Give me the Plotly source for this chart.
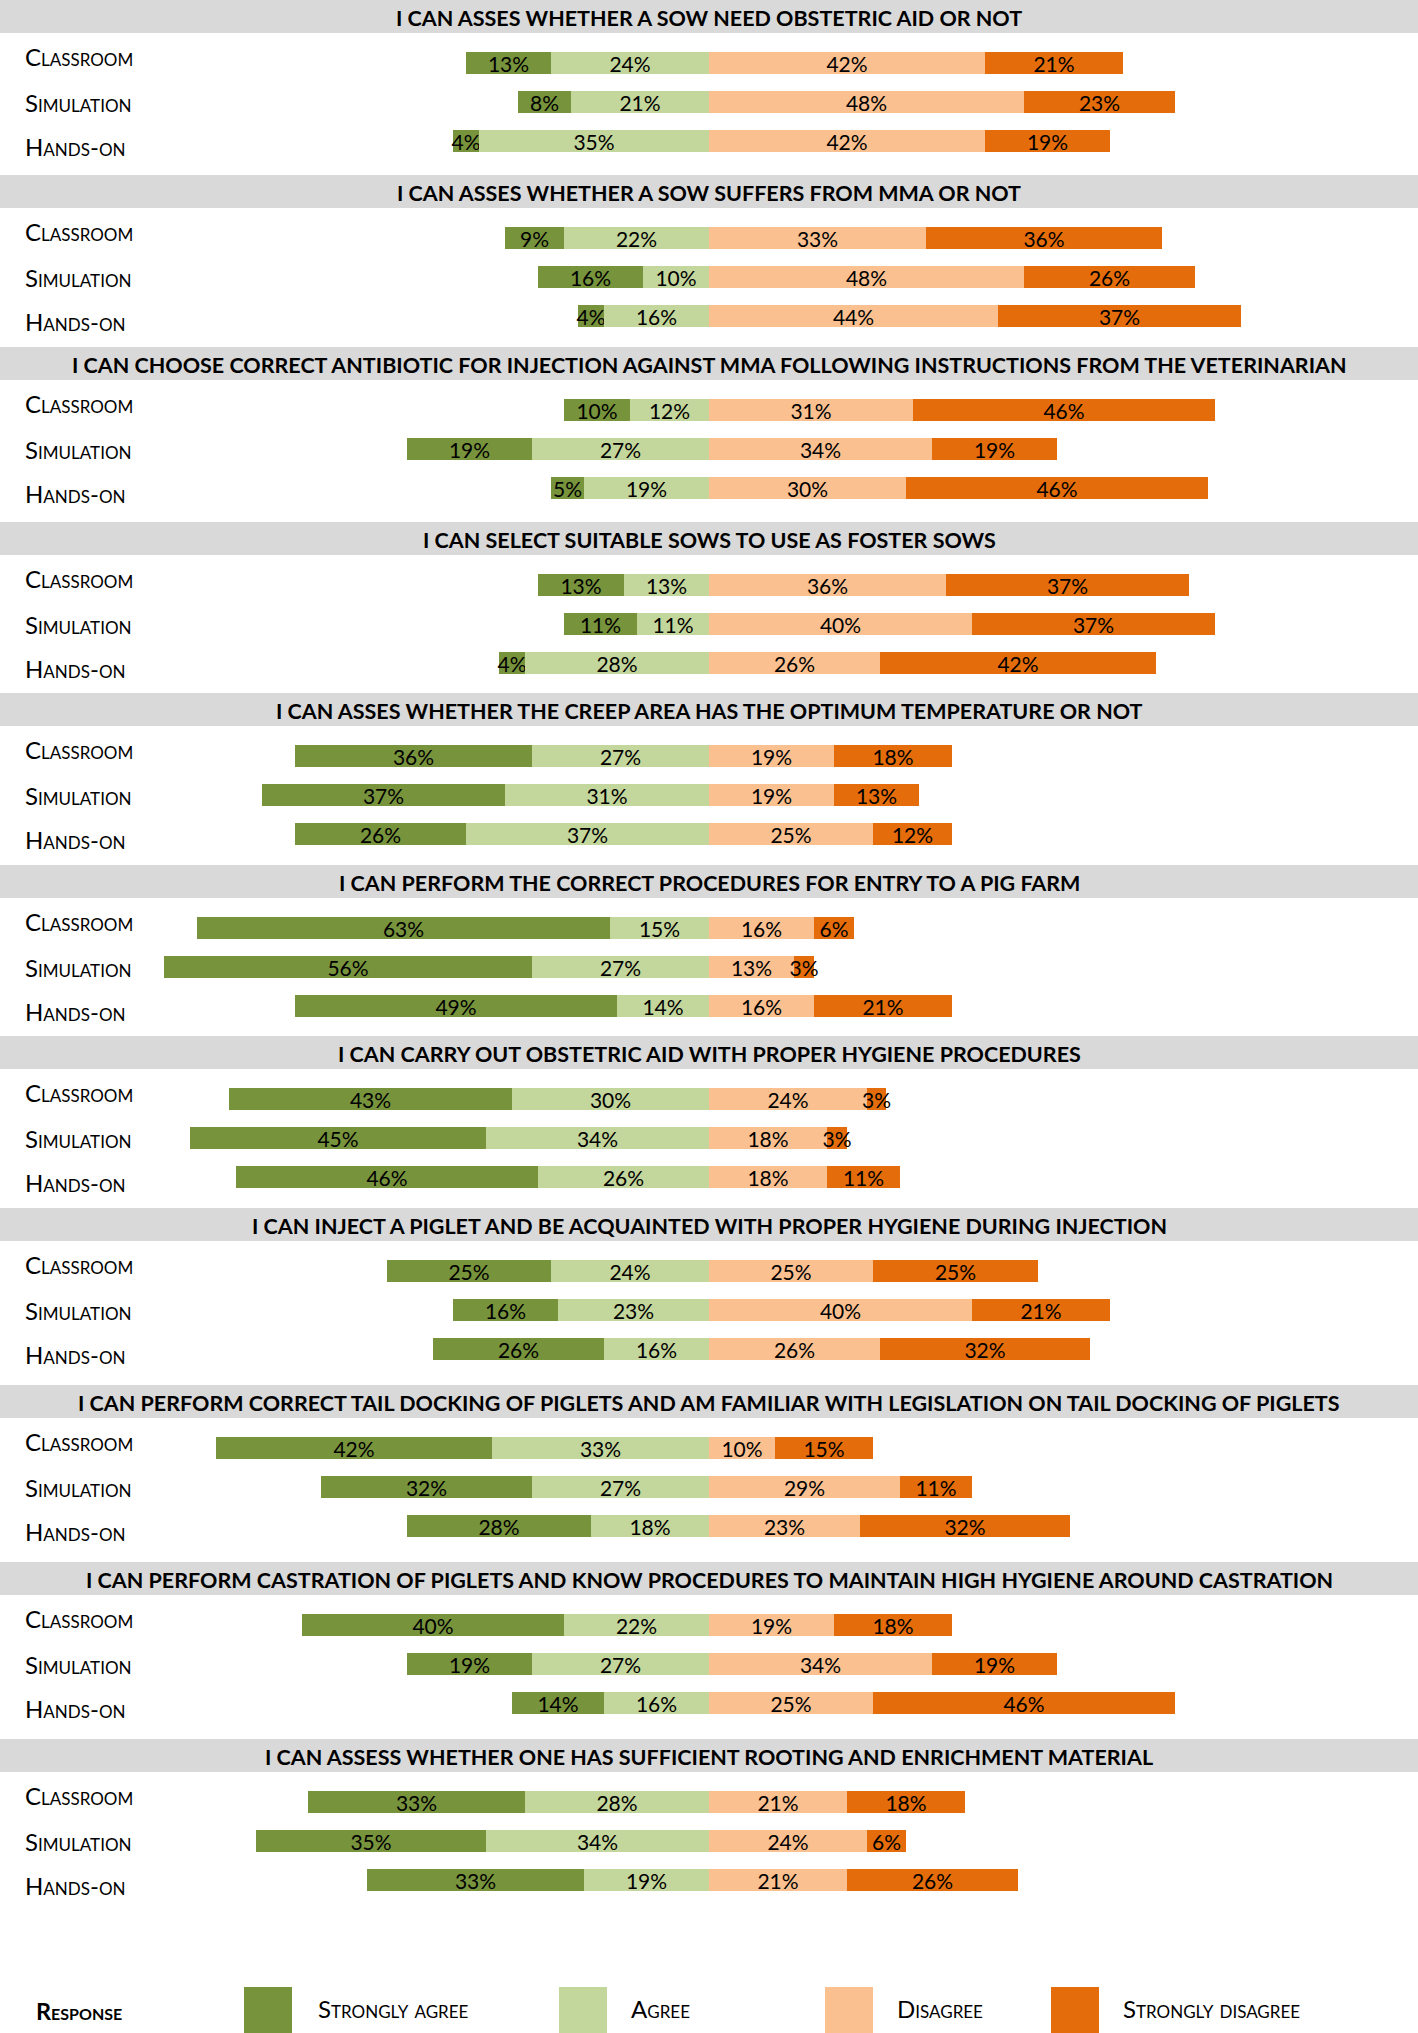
import plotly.graph_objects as go

# ---------------- data ----------------
questions = [
    "I CAN ASSES WHETHER A SOW NEED OBSTETRIC AID OR NOT",
    "I CAN ASSES WHETHER A SOW SUFFERS FROM MMA OR NOT",
    "I CAN CHOOSE CORRECT ANTIBIOTIC FOR INJECTION AGAINST MMA FOLLOWING INSTRUCTIONS FROM THE VETERINARIAN",
    "I CAN SELECT SUITABLE SOWS TO USE AS FOSTER SOWS",
    "I CAN ASSES WHETHER THE CREEP AREA HAS THE OPTIMUM TEMPERATURE OR NOT",
    "I CAN PERFORM THE CORRECT PROCEDURES FOR ENTRY TO A PIG FARM",
    "I CAN CARRY OUT OBSTETRIC AID WITH PROPER HYGIENE PROCEDURES",
    "I CAN INJECT A PIGLET AND BE ACQUAINTED WITH PROPER HYGIENE DURING INJECTION",
    "I CAN PERFORM CORRECT TAIL DOCKING OF PIGLETS AND AM FAMILIAR WITH LEGISLATION ON TAIL DOCKING OF PIGLETS",
    "I CAN PERFORM CASTRATION OF PIGLETS AND KNOW PROCEDURES TO MAINTAIN HIGH HYGIENE AROUND CASTRATION",
    "I CAN ASSESS WHETHER ONE HAS SUFFICIENT ROOTING AND ENRICHMENT MATERIAL",
]
groups = ["Classroom", "Simulation", "Hands-on"]
responses = ["Strongly agree", "Agree", "Disagree", "Strongly disagree"]

# per question: rows Classroom, Simulation, Hands-on
strongly_agree = [
    [13, 8, 4], [9, 16, 4], [10, 19, 5], [13, 11, 4], [36, 37, 26], [63, 56, 49],
    [43, 45, 46], [25, 16, 26], [42, 32, 28], [40, 19, 14], [33, 35, 33],
]
agree = [
    [24, 21, 35], [22, 10, 16], [12, 27, 19], [13, 11, 28], [27, 31, 37], [15, 27, 14],
    [30, 34, 26], [24, 23, 16], [33, 27, 18], [22, 27, 16], [28, 34, 19],
]
disagree = [
    [42, 48, 42], [33, 48, 44], [31, 34, 30], [36, 40, 26], [19, 19, 25], [16, 13, 16],
    [24, 18, 18], [25, 40, 26], [10, 29, 23], [19, 34, 25], [21, 24, 21],
]
strongly_disagree = [
    [21, 23, 19], [36, 26, 37], [46, 19, 46], [37, 37, 42], [18, 13, 12], [6, 3, 21],
    [3, 3, 11], [25, 21, 32], [15, 11, 32], [18, 19, 46], [18, 6, 26],
]

# ---------------- layout constants (pixels) ----------------
W, H = 1418, 2033
PX_PER_PCT = 6.57
panel_tops = [0, 175, 347, 522, 693, 865, 1036, 1208, 1385, 1562, 1739]
HEADER_H = 33
bar_offsets = [63, 102, 141]
label_offsets = [56, 102, 146]
BAR_W = 22

colors = ["#77933c", "#c3d69b", "#fac090", "#e46c0a"]
FONT = "Lato, 'Open Sans', sans-serif"

half = (W / 2) / PX_PER_PCT

ys, sa_x, sa_b, a_x, a_b, d_x, d_b, sd_x, sd_b = ([] for _ in range(9))
for qi in range(len(questions)):
    for gi in range(3):
        ys.append(panel_tops[qi] + bar_offsets[gi])
        SA, A = strongly_agree[qi][gi], agree[qi][gi]
        D, SD = disagree[qi][gi], strongly_disagree[qi][gi]
        sa_x.append(SA); sa_b.append(-(SA + A))
        a_x.append(A); a_b.append(-A)
        d_x.append(D); d_b.append(0)
        sd_x.append(SD); sd_b.append(D)

fig = go.Figure()
for name, xs, bs, col in zip(responses, [sa_x, a_x, d_x, sd_x], [sa_b, a_b, d_b, sd_b], colors):
    fig.add_trace(go.Bar(
        y=ys, x=xs, base=bs, orientation="h", name=name,
        marker=dict(color=col, line=dict(width=0)),
        width=BAR_W,
        text=[f"{v}%" for v in xs],
        textposition="inside", insidetextanchor="middle",
        textangle=0, constraintext="none",
        textfont=dict(family=FONT, size=21, color="black"),
        showlegend=False, hoverinfo="skip",
    ))

shapes, annotations = [], []
for qi, q in enumerate(questions):
    top = panel_tops[qi]
    shapes.append(dict(type="rect", xref="paper", yref="y", x0=0, x1=1,
                       y0=top, y1=top + HEADER_H, fillcolor="#d9d9d9",
                       line=dict(width=0), layer="below"))
    annotations.append(dict(xref="paper", yref="y", x=0.5, y=top + HEADER_H / 2 + 1,
                            text=f"<b>{q}</b>", showarrow=False,
                            xanchor="center", yanchor="middle",
                            font=dict(family=FONT, size=21.5, color="black")))
    for gi, g in enumerate(groups):
        annotations.append(dict(xref="paper", yref="y", x=23 / W, y=top + label_offsets[gi],
                                text=g, showarrow=False, xanchor="left", yanchor="middle",
                                font=dict(family=FONT, size=24, color="black",
                                          variant="small-caps")))

# legend
annotations.append(dict(xref="paper", yref="y", x=34 / W, y=2011, text="<b>Response</b>",
                        showarrow=False, xanchor="left", yanchor="middle",
                        font=dict(family=FONT, size=23.5, color="black", variant="small-caps")))
leg_swatch_x = [244, 559, 825, 1051]
leg_text_x = [316, 629, 895, 1121]
for name, col, sx, tx in zip(responses, colors, leg_swatch_x, leg_text_x):
    shapes.append(dict(type="rect", xref="paper", yref="y", x0=sx / W, x1=(sx + 48) / W,
                       y0=1987, y1=2033, fillcolor=col, line=dict(width=0)))
    annotations.append(dict(xref="paper", yref="y", x=tx / W, y=2008, text=name,
                            showarrow=False, xanchor="left", yanchor="middle",
                            font=dict(family=FONT, size=24, color="black",
                                      variant="small-caps")))

fig.update_layout(
    width=W, height=H,
    margin=dict(l=0, r=0, t=0, b=0),
    paper_bgcolor="white", plot_bgcolor="white",
    barmode="overlay", bargap=0,
    xaxis=dict(range=[-half, half], visible=False, fixedrange=True),
    yaxis=dict(range=[H, 0], visible=False, fixedrange=True),
    shapes=shapes, annotations=annotations,
)

fig.write_html("out.html", config={"displayModeBar": False},
               post_script="document.body.style.margin='0';document.body.style.overflow='hidden';")
